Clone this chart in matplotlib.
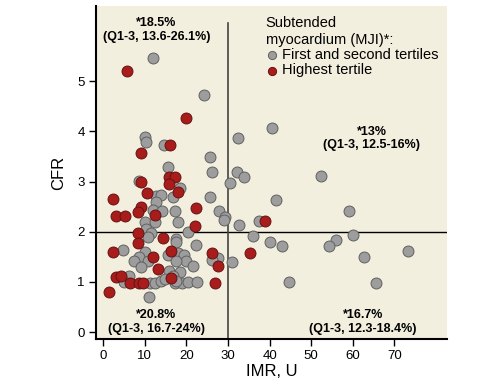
import matplotlib.pyplot as plt

# IMR (x) and CFR (y) for first/second tertiles (gray)
grayIMR = [11.9, 24.3, 10.0, 10.2, 14.6, 25.6, 15.5, 26.1, 32.5, 40.6, 32.1, 33.8, 52.3,
           8.6, 30.4, 18.5, 12.6, 14.0, 12.8, 16.8, 25.7, 17.2, 27.8, 29.3, 29.0, 32.7,
           41.6, 59.1, 11.9, 14.2, 10.0, 12.5, 17.9, 20.4, 37.5, 10.3, 11.5, 10.7, 17.4,
           17.5, 22.4, 36.1, 40.2, 42.9, 60.1, 55.9, 54.2, 62.8, 73.3, 4.7, 10.0, 15.5,
           8.5, 7.3, 10.7, 9.0, 18.1, 19.4, 20.0, 17.5, 21.6, 27.6, 26.1, 31.0, 15.8,
           18.4, 16.8, 6.2, 5.0, 11.2, 12.4, 13.9, 14.8, 17.2, 19.0, 20.3, 22.6, 44.6,
           65.6, 11.1, 17.6]
grayCFR = [5.47, 4.73, 3.90, 3.79, 3.73, 3.50, 3.29, 3.19, 3.87, 4.06, 3.19, 3.09, 3.12,
           3.01, 2.97, 2.88, 2.72, 2.74, 2.59, 2.69, 2.69, 2.42, 2.41, 2.29, 2.23, 2.14,
           2.63, 2.42, 2.43, 2.41, 2.20, 2.19, 2.19, 2.00, 2.22, 2.05, 1.98, 1.89, 1.85,
           1.79, 1.73, 1.92, 1.79, 1.72, 1.94, 1.83, 1.72, 1.50, 1.62, 1.63, 1.60, 1.53,
           1.49, 1.42, 1.42, 1.30, 1.57, 1.53, 1.41, 1.42, 1.31, 1.48, 1.43, 1.40, 1.22,
           1.19, 1.12, 1.12, 0.99, 0.98, 0.98, 1.02, 1.05, 0.98, 0.98, 0.99, 0.99, 1.00,
           0.97, 0.70, 1.02]

# highest tertile (red)
redIMR = [5.8, 20.0, 16.0, 9.2, 15.8, 17.2, 15.9, 9.2, 10.5, 18.0, 2.4, 9.2, 8.3, 22.3,
          12.4, 3.05, 5.2, 22.0, 8.3, 14.4, 8.3, 38.9, 2.3, 16.2, 12.0, 26.1, 27.5, 35.4,
          13.2, 3.2, 4.4, 6.4, 8.7, 9.5, 16.3, 26.9, 1.3]
redCFR = [5.20, 4.27, 3.73, 3.57, 3.10, 3.09, 2.96, 3.00, 2.78, 2.79, 2.65, 2.49, 2.40, 2.48,
          2.34, 2.32, 2.31, 2.11, 1.97, 1.88, 1.77, 2.22, 1.60, 1.61, 1.50, 1.57, 1.32, 1.57,
          1.26, 1.10, 1.12, 0.97, 0.97, 0.97, 1.08, 0.97, 0.79]

quadText = ["*18.5%\n(Q1-3, 13.6-26.1%)", "*13%\n(Q1-3, 12.5-16%)",
            "*20.8%\n(Q1-3, 16.7-24%)", "*16.7%\n(Q1-3, 12.3-18.4%)"]

narrow = ['Liberation Sans Narrow', 'Liberation Sans', 'DejaVu Sans']
regular = ['Liberation Sans', 'DejaVu Sans']
plt.rcParams['font.family'] = narrow

fig = plt.figure(figsize=(5.02, 3.84), dpi=100)
ax = fig.add_axes([0.191, 0.117, 0.699, 0.867])
ax.set_facecolor('#f3efdf')

ax.axhline(2, color='black', linewidth=1.0, zorder=1)
ax.plot([30, 30], [-0.14, 6.17], color='#444444', linewidth=1.2, zorder=1)

ax.scatter(grayIMR, grayCFR, s=62, color='#9d9d9d', edgecolors='#606060', linewidths=0.7,
           zorder=3, label='First and second tertiles')
ax.scatter(redIMR, redCFR, s=62, color='#a81c1c', edgecolors='#651212', linewidths=0.7,
           zorder=4, label='Highest tertile')

ax.set_xlim(-1.75, 82.6)
ax.set_ylim(-0.14, 6.5)
ax.set_xticks(range(0, 80, 10))
ax.set_yticks(range(0, 6))
ax.tick_params(direction='out', length=5, width=1, colors='black', labelsize=9.5, pad=3)
for side in ['top', 'right']:
    ax.spines[side].set_visible(False)
for side in ['left', 'bottom']:
    ax.spines[side].set_linewidth(1.5)

ax.set_xlabel('IMR, U', family=regular, fontsize=12, labelpad=1)
ax.set_ylabel('CFR', family=regular, fontsize=12, labelpad=8)

pos = [(12.8, 6.02), (64.5, 3.86), (12.8, 0.2), (62.4, 0.2)]
for (tx, ty), t in zip(pos, quadText):
    ax.text(tx, ty, t, ha='center', va='center', fontweight='bold',
            fontsize=9, linespacing=1.2, zorder=5, family=narrow)

leg = ax.legend(loc='upper left', bbox_to_anchor=(0.455, 1.0), frameon=False,
                title='Subtended\nmyocardium (MJI)*:', markerscale=0.75,
                handlelength=0.8, handletextpad=0.3, borderaxespad=0.3,
                labelspacing=0.1, prop={'family': regular, 'size': 10.5})
leg.get_title().set_family(regular)
leg.get_title().set_fontsize(10.5)
leg._legend_box.align = 'left'

fig.savefig('out.png', dpi=100)
